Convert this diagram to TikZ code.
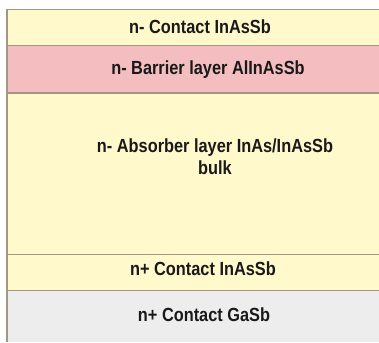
\documentclass[tikz,border=0pt]{standalone}
\usepackage{fontspec}
\setmainfont{Liberation Sans}[FakeStretch=0.86]
\definecolor{layerY}{RGB}{255,249,204}
\definecolor{layerP}{RGB}{244,190,192}
\definecolor{layerG}{RGB}{237,237,237}
\definecolor{edgeC}{RGB}{160,152,130}
\begin{document}
\begin{tikzpicture}[x=1pt,y=1pt,
  lbl/.style={font=\fontsize{19}{22}\selectfont\bfseries, inner sep=0pt, anchor=base, align=center, text=black!90},
  sep/.style={draw=edgeC, line width=1.1pt}]
\useasboundingbox (0,0) rectangle (379,-342);
% layers
\fill[layerY] (7,-9.3) rectangle (379,-45.5);
\fill[layerP] (7,-45.5) rectangle (379,-93);
\fill[layerY] (7,-93) rectangle (379,-254.3);
\fill[layerY] (7,-254.3) rectangle (379,-290.7);
\fill[layerG] (7,-290.7) rectangle (379,-342);
% separators
\draw[sep] (7,-9.3) -- (379,-9.3);
\draw[sep] (7,-45.5) -- (379,-45.5);
\draw[sep] (7,-93) -- (379,-93);
\draw[sep] (7,-254.3) -- (379,-254.3);
\draw[sep] (7,-290.7) -- (379,-290.7);
\draw[sep] (7,-9.3) -- (7,-342);
% labels
\node[lbl] (c1) at (200,-34) {n- Contact InAsSb};
\node[lbl] (bar) at (208,-74.5) {n- Barrier layer AlInAsSb};
\node[lbl, anchor=north] (abs) at (215,-139) {n- Absorber layer InAs/InAsSb\\bulk};
\node[lbl] (c2) at (203,-275.5) {n+ Contact InAsSb};
\node[lbl] (c3) at (204,-321) {n+ Contact GaSb};
\end{tikzpicture}
\end{document}
